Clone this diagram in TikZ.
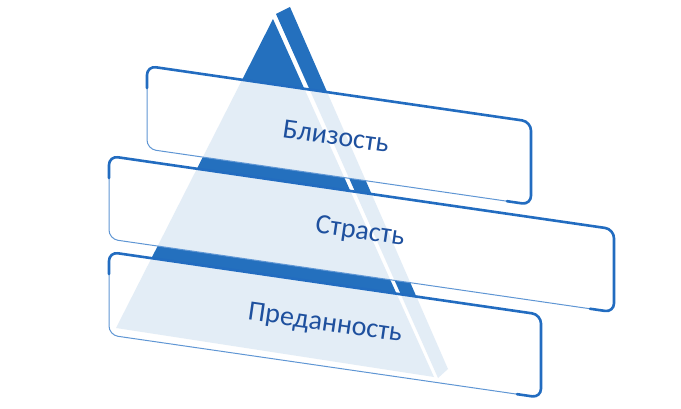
\documentclass[tikz,border=0pt]{standalone}
\usepackage{fontspec}
\setmainfont{Carlito}
\usetikzlibrary{calc}
\definecolor{pyrblue}{RGB}{36,112,190}
\definecolor{edgeblue}{RGB}{34,108,192}
\definecolor{lightedge}{RGB}{95,150,212}
\definecolor{textblue}{RGB}{30,80,158}
\tikzset{
	face/.style={fill=pyrblue, draw=none},
	platebody/.style={fill=white, fill opacity=0.875, draw=lightedge, line width=1pt, rounded corners=9pt},
	platetop/.style={draw=edgeblue, line width=2.6pt, rounded corners=9pt, line cap=round},
	platelabel/.style={text=textblue, font=\fontsize{28}{32}\selectfont, rotate=-8.25, inner sep=0pt}
}
% left : right : top (slope 0.145, height 83)
\def\plate(#1:#2:#3){%
	\draw[platebody] (#1,#3) -- (#2,{#3+0.145*(#2-#1)}) -- (#2,{#3+0.145*(#2-#1)+83}) -- (#1,{#3+83}) -- cycle;
	\draw[platetop] (#1,{#3+22}) -- (#1,#3) -- (#2,{#3+0.145*(#2-#1)}) -- (#2,{#3+0.145*(#2-#1)+83}) -- ({#2-24},{#3+0.145*(#2-#1-24)+83});
}

\begin{document}
\begin{tikzpicture}[x=1pt, y=-1pt]
	%%%%% START %%%%%
	\useasboundingbox (0,0) rectangle (681,409);
	
	\draw[face] (273,19) -- (434,377) -- (116,328) -- cycle;
	\draw[face] (276,14) -- (290,7) -- (448,369) -- (438,378) -- cycle;
	
	\plate(147:531:66)
	\plate(109:614:156)
	\plate(109:541:252)
	
	\node[platelabel] (closeness) at (336,136) {Близость};
	\node[platelabel] (passion) at (360,232) {Страсть};
	\node[platelabel] (devotion) at (325,324) {Преданность};
	
	%%%%% END %%%%%
\end{tikzpicture}
\end{document}
